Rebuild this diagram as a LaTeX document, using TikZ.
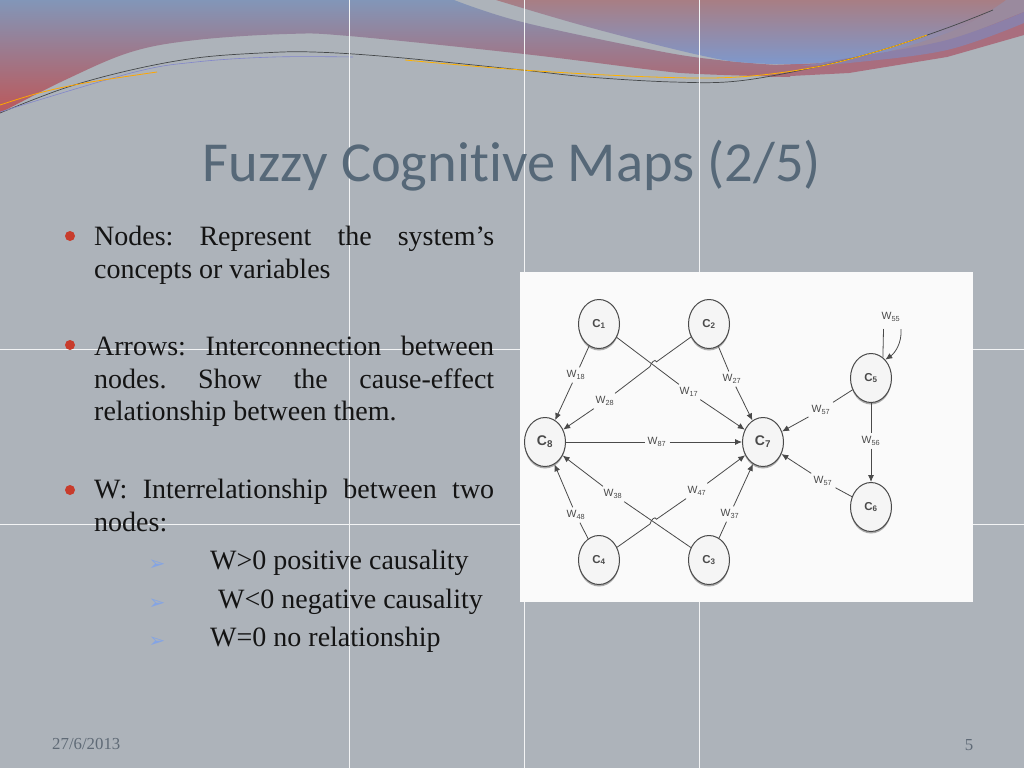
\documentclass[tikz,border=0pt]{standalone}
\usepackage{fontspec}
\setmainfont{Liberation Serif}
\newfontfamily\titlefont[Ligatures=NoCommon]{Carlito}
\newfontfamily\dingfont{DejaVu Sans}
\newfontfamily\diagfont{Liberation Sans}
\usetikzlibrary{shapes.geometric,shadows,arrows.meta}
\frenchspacing
\definecolor{slidegray}{HTML}{ADB3BA}
\definecolor{titlecol}{HTML}{566878}
\definecolor{bulletcol}{HTML}{C83C2C}
\definecolor{dingcol}{HTML}{84A4E4}
\definecolor{footcol}{HTML}{5F6A76}
\definecolor{inkcol}{HTML}{4A4A4A}
\definecolor{bandtop}{HTML}{8296B8}
\definecolor{bandmid}{HTML}{A07388}
\definecolor{bandlow}{HTML}{BC585A}
\definecolor{swoopup}{HTML}{A87E84}
\definecolor{swoopmid}{HTML}{9A8A9E}
\definecolor{swooplow}{HTML}{7E98CC}
\definecolor{tailcol}{HTML}{A96E7E}
\definecolor{stripecol}{HTML}{8C80A8}
\tikzset{
	body/.style={anchor=north west,inner sep=0pt,align=left,text=black!92,font=\fontsize{28}{32.5}\selectfont},
	dot/.style={circle,fill=bulletcol,minimum size=10pt,inner sep=0pt},
	ding/.style={inner sep=0pt,text=dingcol,font=\dingfont\fontsize{20}{20}\selectfont},
	concept/.style={ellipse,draw=inkcol,line width=1pt,fill=white!96!black,minimum width=41pt,minimum height=49pt,inner sep=0pt,text=inkcol,font=\diagfont\bfseries\fontsize{11.5}{11}\selectfont,drop shadow={shadow xshift=0pt,shadow yshift=-2pt,opacity=.45,fill=black!70}},
	wlab/.style={inner sep=3pt,text=inkcol,font=\diagfont\fontsize{10.5}{11}\selectfont},
	link/.style={draw=inkcol,line width=.8pt},
	linkto/.style={link,-{Latex[length=7pt,width=6pt]}}
}
\begin{document}
\begin{tikzpicture}[x=1pt,y=-1pt]
	\useasboundingbox (0,0) rectangle (1024,768);
	\fill[slidegray] (0,0) rectangle (1024,768);
	%banner
	\fill[swoopmid] (1006,0) -- (1024,0) -- (1024,14) -- (947,44) -- (882,54) -- cycle;
	\fill[tailcol] (771,65) -- (849,62) -- (947,43) -- (1024,12) -- (1024,35) -- (947,57) -- (849,73) -- (771,77) -- cycle;
	\shade[top color=bandtop,middle color=bandmid,bottom color=bandlow] (0,0) -- plot[smooth,tension=.6] coordinates {(454,0) (522,22) (653,50) (718,60) (790,66)} -- plot[smooth,tension=.6] coordinates {(790,77) (699,74) (653,70) (524,54) (349,36) (287,34) (196,40) (131,52) (65,80) (0,113)} -- cycle;
	\shade[top color=swoopup,middle color=swoopmid,bottom color=swooplow] plot[smooth,tension=.6] coordinates {(496,0) (588,27) (699,55) (751,63) (816,63) (882,53) (947,33) (980,17) (1006,0)} -- cycle;
	\fill[stripecol] plot[smooth,tension=.6] coordinates {(800,66) (849,58) (947,40) (1024,12)} -- plot[smooth,tension=.6] coordinates {(1024,23) (947,50) (849,63) (800,66)} -- cycle;
	\draw[black!60!slidegray,line width=.7pt] plot[smooth,tension=.6] coordinates {(0,113) (65,88) (131,70) (196,58) (261,53) (313,52) (392,57) (522,70) (588,77) (673,82) (738,81) (816,67) (882,50) (947,28) (993,10)};
	\draw[blue!25!slidegray,line width=.6pt] plot[smooth,tension=.6] coordinates {(0,112) (131,73) (196,62) (274,57) (353,57)};
	\draw[orange!70!yellow,line width=.8pt] plot[smooth,tension=.6] coordinates {(0,105) (39,93) (85,83) (157,72)};
	\draw[orange!60!yellow,line width=.8pt] plot[smooth,tension=.6] coordinates {(405,60) (522,70) (653,77) (738,77) (816,67) (882,50) (927,35)};
	%grid
	\foreach \x in {349,524,699} \draw[white!85!slidegray,line width=.8pt] (\x,0) -- (\x,768);
	\foreach \y in {349,524} \draw[white!85!slidegray,line width=.8pt] (0,\y) -- (1024,\y);
	%texts
	\node[anchor=center,inner sep=0pt,text=titlecol,font=\titlefont\fontsize{56.5}{56}\selectfont] (title) at (512,166) {Fuzzy Cognitive Maps (2/5)};
	\node[dot] (dota) at (70,236) {};
	\node[dot] (dotb) at (70,345) {};
	\node[dot] (dotc) at (70,490) {};
	\node[body] (nodestxt) at (94,226) {\makebox[400pt][s]{Nodes: Represent the system’s}\\concepts or variables};
	\node[body] (arrowstxt) at (94,336) {\makebox[400pt][s]{Arrows: Interconnection between}\\\makebox[400pt][s]{nodes. Show the cause-effect}\\relationship between them.};
	\node[body] (wtxt) at (94,479) {\makebox[400pt][s]{W: Interrelationship between two}\\nodes:};
	\foreach \nm/\y in {a/565,b/604,c/642} \node[ding] (ding\nm) at (157,\y) {➢};
	\node[body,anchor=west] (wpos) at (210,563) {W>0 positive causality};
	\node[body,anchor=west] (wneg) at (218,602) {W<0 negative causality};
	\node[body,anchor=west] (wzero) at (210,640) {W=0 no relationship};
	\node[anchor=west,inner sep=0pt,text=footcol,font=\fontsize{16.8}{16}\selectfont] (date) at (52,744) {27/6/2013};
	\node[inner sep=0pt,text=footcol,font=\fontsize{16.8}{16}\selectfont] (pagenum) at (969,745) {5};
	%map
	\fill[white!98!black] (520,272) rectangle (973,602);
	\foreach \nm/\x/\y/\i in {c1/599/324/1,c2/709/324/2,c3/709/560/3,c4/599/560/4,c5/871/378/5,c6/871/507/6}
		\node[concept] (\nm) at (\x,\y) {C\textsubscript{\i}};
	\foreach \nm/\x/\y/\i in {c7/763/442/7,c8/545/442/8}
		\node[concept,font=\diagfont\bfseries\fontsize{14}{14}\selectfont] (\nm) at (\x,\y) {C\textsubscript{\i}};
	\foreach \nm/\x/\y/\i in {w18/576/375/18,w28/605/401/28,w17/689/392/17,w27/732/379/27,w87/657/442/87,w38/613/494/38,w47/697/491/47,w48/576/515/48,w37/730/514/37,wa57/821/410/57,w56/871/441/56,wb57/823/481/57,w55/891/317/55}
		\node[wlab] (\nm) at (\x,\y) {W\textsubscript{\i}};
	\coordinate (hopa) at (656.5,361.8); \coordinate (hopb) at (650,366.6);
	\coordinate (hopc) at (650,524); \coordinate (hopd) at (656.5,519.2);
	\coordinate (loopa) at (883.5,329); \coordinate (loopb) at (901,329);
	\draw[link] (c1) -- (w18); \draw[linkto] (w18) -- (c8);
	\draw[link] (c2) -- (hopa) .. controls (655,358) and (651,363) .. (hopb) -- (w28); \draw[linkto] (w28) -- (c8);
	\draw[link] (c1) -- (w17); \draw[linkto] (w17) -- (c7);
	\draw[link] (c2) -- (w27); \draw[linkto] (w27) -- (c7);
	\draw[link] (c8) -- (w87); \draw[linkto] (w87) -- (c7);
	\draw[link] (c3) -- (w38); \draw[linkto] (w38) -- (c8);
	\draw[link] (c4) -- (hopc) .. controls (651,520) and (655,515.5) .. (hopd) -- (w47); \draw[linkto] (w47) -- (c7);
	\draw[link] (c4) -- (w48); \draw[linkto] (w48) -- (c8);
	\draw[link] (c3) -- (w37); \draw[linkto] (w37) -- (c7);
	\draw[link] (c5) -- (wa57); \draw[linkto] (wa57) -- (c7);
	\draw[link] (c5) -- (w56); \draw[linkto] (w56) -- (c6);
	\draw[link] (c6) -- (wb57); \draw[linkto] (wb57) -- (c7);
	\draw[link] (loopa) -- (c5.60);
	\draw[linkto] (loopb) .. controls (902,343) and (895,353) .. (c5.52);
\end{tikzpicture}
\end{document}
